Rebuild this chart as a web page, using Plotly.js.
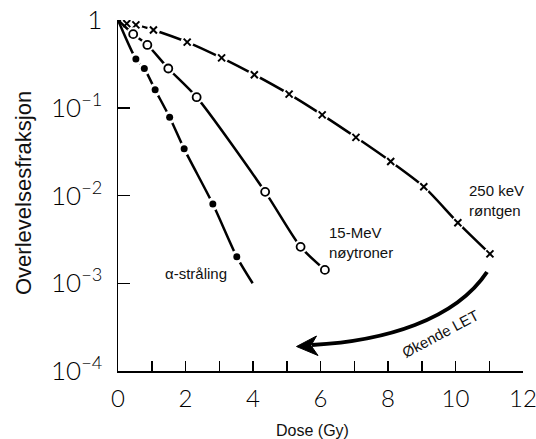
<!DOCTYPE html>
<html>
<head>
<meta charset="utf-8">
<script src="https://cdn.plot.ly/plotly-3.0.1.min.js"></script>
<style>
  html, body { margin: 0; padding: 0; background: #fff; }
  #chart { width: 536px; height: 439px; }
</style>
</head>
<body>
<div id="chart"></div>
<script>
// Cell survival curves: surviving fraction vs. absorbed dose
const xrayDose = [0.26, 0.53, 1.05, 2.05, 3.07, 4.04, 5.07, 6.05, 7.05, 8.08, 9.06, 10.07, 11.02];
const xraySurv = [0.91, 0.88, 0.77, 0.56, 0.37, 0.238, 0.143, 0.083, 0.046, 0.0244, 0.0126, 0.0049, 0.00216];

const neutronDose = [0.45, 0.87, 1.49, 2.33, 4.36, 5.41, 6.13];
const neutronSurv = [0.69, 0.52, 0.28, 0.132, 0.011, 0.0026, 0.00142];

const alphaDose = [0.53, 0.78, 1.10, 1.53, 1.96, 2.81, 3.52];
const alphaSurv = [0.36, 0.28, 0.16, 0.078, 0.034, 0.008, 0.002];
// the alpha fit line is carried on past the last measured point
const alphaLineEndDose = 3.99;
const alphaLineEndSurv = 0.001;

const xTickVals = [0, 2, 4, 6, 8, 10, 12];
const xMinorVals = [1, 3, 5, 7, 9, 11];
const yTickVals = [1e-4, 1e-3, 1e-2, 1e-1, 1];
const yTickText = ['10<sup>−4</sup>', '10<sup>−3</sup>', '10<sup>−2</sup>', '10<sup>−1</sup>', '1'];

// plot frame in pixels (used to place the curved arrow in paper units)
const W = 536, H = 439;
const M = { l: 118, r: 13, t: 20, b: 68 };
const plotW = W - M.l - M.r, plotH = H - M.t - M.b;
const px = x => (x - M.l) / plotW;
const py = y => (H - M.b - y) / plotH;

const thinX = { family: 'Lato, sans-serif', size: 24, color: '#000', weight: 300 };
const thinY = { family: 'Lato, sans-serif', size: 26, color: '#000', weight: 300 };
const sans = 'Liberation Sans, Arial, sans-serif';

// every curve starts at full survival at zero dose
function curve(dose, surv, extraDose, extraSurv) {
  const x = [0].concat(dose), y = [1].concat(surv);
  if (extraDose !== undefined) { x.push(extraDose); y.push(extraSurv); }
  return { x, y };
}

function series(dose, surv, symbol, size, lineW, extra) {
  const c = extra ? curve(dose, surv, extra[0], extra[1]) : curve(dose, surv);
  return [
    { x: c.x, y: c.y, mode: 'lines', type: 'scatter',
      line: { color: '#000', width: 2.5, shape: 'spline', smoothing: 0.7 } },
    // white halo so the line breaks around each marker
    { x: dose, y: surv, mode: 'markers', type: 'scatter',
      marker: { symbol: 'circle', size: size + 6, color: '#fff', line: { width: 0 } } },
    { x: dose, y: surv, mode: 'markers', type: 'scatter',
      marker: { symbol: symbol, size: size, color: '#000', line: { color: '#000', width: lineW } } }
  ];
}

const data = [].concat(
  series(xrayDose, xraySurv, 'x-thin', 7, 2),
  series(neutronDose, neutronSurv, 'circle-open', 8, 1.8),
  series(alphaDose, alphaSurv, 'circle', 7, 0, [alphaLineEndDose, alphaLineEndSurv])
);

// curved "increasing LET" arrow
const shaft = 'M ' + px(487) + ',' + py(272) +
  ' C ' + px(455) + ',' + py(320) + ' ' + px(385) + ',' + py(341) + ' ' + px(312) + ',' + py(345);
const head = 'M ' + px(296.5) + ',' + py(346.5) +
  ' L ' + px(316.5) + ',' + py(336) +
  ' L ' + px(311) + ',' + py(345.5) +
  ' L ' + px(318) + ',' + py(355.5) + ' Z';

const layout = {
  width: W, height: H,
  margin: { l: M.l, r: M.r, t: M.t, b: M.b, pad: 0 },
  paper_bgcolor: '#fff', plot_bgcolor: '#fff',
  showlegend: false, hovermode: false,
  xaxis: {
    range: [0, 12], showgrid: false, zeroline: false,
    showline: true, linecolor: '#000', linewidth: 1.5,
    tickmode: 'array', tickvals: xTickVals, ticktext: xTickVals.map(String),
    ticks: 'inside', ticklen: 10, tickwidth: 1.5, tickcolor: '#000',
    ticklabelstandoff: 6, ticklabeloverflow: 'allow',
    minor: { tickmode: 'array', tickvals: xMinorVals, ticks: 'inside', ticklen: 10,
             tickwidth: 1.5, tickcolor: '#000', showgrid: false },
    tickfont: thinX
  },
  yaxis: {
    type: 'log', range: [-4, 0], showgrid: false, zeroline: false,
    showline: true, linecolor: '#000', linewidth: 1.5,
    tickmode: 'array', tickvals: yTickVals, ticktext: yTickText,
    ticks: 'inside', ticklen: 12, tickwidth: 1.5, tickcolor: '#000',
    ticklabelstandoff: 9, ticklabeloverflow: 'allow',
    tickfont: thinY
  },
  shapes: [
    { type: 'path', xref: 'paper', yref: 'paper', path: shaft,
      line: { color: '#000', width: 4 } },
    { type: 'path', xref: 'paper', yref: 'paper', path: head,
      fillcolor: '#000', line: { color: '#000', width: 1 } }
  ],
  annotations: [
    { text: 'Overlevelsesfraksjon', xref: 'paper', yref: 'paper',
      x: px(24), y: py(193), textangle: -90, showarrow: false,
      xanchor: 'center', yanchor: 'middle',
      font: { family: sans, size: 22, color: '#111' } },
    { text: 'Dose (Gy)', xref: 'paper', yref: 'paper',
      x: px(312.5), y: py(430), showarrow: false,
      xanchor: 'center', yanchor: 'middle',
      font: { family: sans, size: 16, color: '#111' } },
    { text: 'α-stråling', xref: 'x', yref: 'y', x: 1.33, y: -2.894,
      showarrow: false, xanchor: 'left', yanchor: 'middle',
      font: { family: sans, size: 15, color: '#111' } },
    { text: '15-MeV<br>nøytroner', xref: 'x', yref: 'y', x: 6.19, y: -2.535,
      showarrow: false, xanchor: 'left', yanchor: 'middle', align: 'left',
      font: { family: sans, size: 15, color: '#111' } },
    { text: '250 keV<br>røntgen', xref: 'x', yref: 'y', x: 10.34, y: -2.061,
      showarrow: false, xanchor: 'left', yanchor: 'middle', align: 'left',
      font: { family: sans, size: 15, color: '#111' } },
    { text: 'Økende LET', xref: 'x', yref: 'y', x: 9.55, y: -3.57,
      textangle: -28, showarrow: false, xanchor: 'center', yanchor: 'middle',
      font: { family: sans, size: 15, color: '#111' } }
  ]
};

Plotly.newPlot('chart', data, layout, { staticPlot: true, displayModeBar: false });
</script>
</body>
</html>
